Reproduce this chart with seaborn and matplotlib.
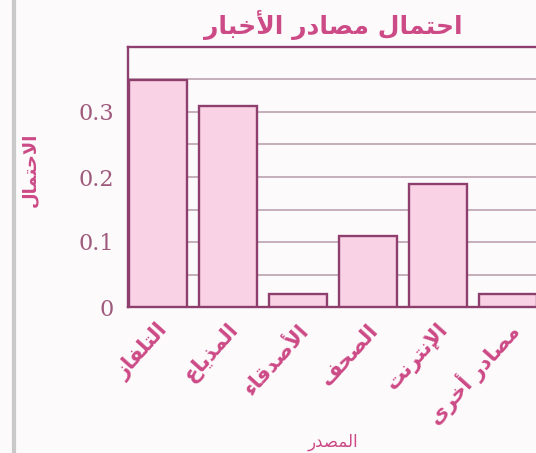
import matplotlib
matplotlib.use("Agg")
import matplotlib.pyplot as plt
import matplotlib.transforms as mtransforms
import seaborn as sns
import pandas as pd
from matplotlib.ticker import MultipleLocator
from matplotlib.lines import Line2D

# ---- data ----
categories = ["التلفاز", "المذياع", "الأصدقاء", "الصحف", "الإنترنت", "مصادر أخرى"]
probabilities = [0.35, 0.31, 0.02, 0.11, 0.19, 0.02]
ytick_values = [0, 0.1, 0.2, 0.3]
ytick_labels = ["0", "0.1", "0.2", "0.3"]
title_text = "احتمال مصادر الأخبار"
ylabel_text = "الاحتمال"
xlabel_text = "المصدر"

# ---- minimal Arabic shaping (matplotlib has no shaping engine) ----
FORMS = {
    "ء": ("\uFE80", None, None, None),
    "آ": ("\uFE81", "\uFE82", None, None),
    "أ": ("\uFE83", "\uFE84", None, None),
    "إ": ("\uFE87", "\uFE88", None, None),
    "ا": ("\uFE8D", "\uFE8E", None, None),
    "ب": ("\uFE8F", "\uFE90", "\uFE91", "\uFE92"),
    "ت": ("\uFE95", "\uFE96", "\uFE97", "\uFE98"),
    "ج": ("\uFE9D", "\uFE9E", "\uFE9F", "\uFEA0"),
    "ح": ("\uFEA1", "\uFEA2", "\uFEA3", "\uFEA4"),
    "خ": ("\uFEA5", "\uFEA6", "\uFEA7", "\uFEA8"),
    "د": ("\uFEA9", "\uFEAA", None, None),
    "ذ": ("\uFEAB", "\uFEAC", None, None),
    "ر": ("\uFEAD", "\uFEAE", None, None),
    "ز": ("\uFEAF", "\uFEB0", None, None),
    "ص": ("\uFEB9", "\uFEBA", "\uFEBB", "\uFEBC"),
    "ع": ("\uFEC9", "\uFECA", "\uFECB", "\uFECC"),
    "ف": ("\uFED1", "\uFED2", "\uFED3", "\uFED4"),
    "ق": ("\uFED5", "\uFED6", "\uFED7", "\uFED8"),
    "ل": ("\uFEDD", "\uFEDE", "\uFEDF", "\uFEE0"),
    "م": ("\uFEE1", "\uFEE2", "\uFEE3", "\uFEE4"),
    "ن": ("\uFEE5", "\uFEE6", "\uFEE7", "\uFEE8"),
    "ه": ("\uFEE9", "\uFEEA", "\uFEEB", "\uFEEC"),
    "و": ("\uFEED", "\uFEEE", None, None),
    "ى": ("\uFEEF", "\uFEF0", None, None),
    "ي": ("\uFEF1", "\uFEF2", "\uFEF3", "\uFEF4"),
}
LAM_ALEF = {"آ": ("\uFEF5", "\uFEF6"), "أ": ("\uFEF7", "\uFEF8"),
            "إ": ("\uFEF9", "\uFEFA"), "ا": ("\uFEFB", "\uFEFC")}


def joins_next(ch):
    return ch in FORMS and FORMS[ch][2] is not None


def shape_line(s):
    units = []
    i = 0
    while i < len(s):
        if s[i] == "ل" and i + 1 < len(s) and s[i + 1] in LAM_ALEF:
            units.append(("LA", s[i + 1]))
            i += 2
        else:
            units.append(("C", s[i]))
            i += 1
    out = []
    for k, (kind, ch) in enumerate(units):
        prev = units[k - 1] if k > 0 else None
        nxt = units[k + 1] if k + 1 < len(units) else None
        p = prev is not None and prev[0] == "C" and joins_next(prev[1])
        if kind == "LA":
            out.append(LAM_ALEF[ch][1] if p else LAM_ALEF[ch][0])
            continue
        if ch not in FORMS:
            out.append(ch)
            continue
        iso, fin, ini, med = FORMS[ch]
        n = nxt is not None and (nxt[0] == "LA" or nxt[1] in FORMS) and ini is not None
        if p and n and med:
            out.append(med)
        elif p and fin:
            out.append(fin)
        elif n and ini:
            out.append(ini)
        else:
            out.append(iso)
    return "".join(out)[::-1]


def ar(s):
    return "\n".join(shape_line(line) for line in s.split("\n"))


# ---- style ----
pink_text = "#cc4a86"
bar_face = "#f9d2e5"
bar_edge = "#8e3f6e"
grid_col = "#b59aa8"

sns.set_theme(style="white")
plt.rcParams["font.family"] = ["DejaVu Sans"]

fig = plt.figure(figsize=(5.36, 4.53), dpi=100, facecolor="#fdfafb")
ax = fig.add_axes([128 / 536, 1 - 307 / 453, 410 / 536, 260 / 453])
ax.set_facecolor("#fdfafb")

df = pd.DataFrame({"cat": [ar(c) for c in categories], "p": probabilities})
sns.barplot(data=df, x="cat", y="p", ax=ax, color=bar_face, saturation=1,
            width=0.82, edgecolor=bar_edge, linewidth=1.7, zorder=3)

ax.set_xlim(-0.43, 5.43)
ax.set_ylim(0, 0.4)
ax.yaxis.set_minor_locator(MultipleLocator(0.05))
ax.set_yticks(ytick_values)
ax.set_yticklabels(ytick_labels, family="DejaVu Serif", fontsize=16, color="#9e5a7c")
ax.grid(True, which="both", axis="y", color=grid_col, linewidth=1.1, zorder=0)
ax.tick_params(axis="both", which="both", length=0)
ax.tick_params(axis="y", pad=10)

for s in ax.spines.values():
    s.set_color(bar_edge)
    s.set_linewidth(1.7)

labels = ax.get_xticklabels()
ax.set_xticklabels([l.get_text() for l in labels], rotation=48, ha="right",
                   va="center", rotation_mode="anchor", fontsize=15,
                   fontweight="bold", color=pink_text)
ax.tick_params(axis="x", pad=14)
offset = mtransforms.ScaledTranslation(7 / 100, 0, fig.dpi_scale_trans)
for lab in ax.get_xticklabels():
    lab.set_transform(lab.get_transform() + offset)

ax.set_xlabel(ar(xlabel_text), fontsize=12, color=pink_text, va="center")
ax.xaxis.set_label_coords((333 - 128) / 410, (307 - 442) / 260)
ax.set_ylabel(ar(ylabel_text), fontsize=13, fontweight="bold", color=pink_text,
              va="center")
ax.yaxis.set_label_coords((30 - 128) / 410, (307 - 170) / 260)
ax.set_title(ar(title_text), fontsize=18, fontweight="bold", color=pink_text, pad=9)

fig.add_artist(Line2D([14 / 536, 14 / 536], [0, 1], transform=fig.transFigure,
                      color="#c9c9c9", linewidth=3))

fig.savefig("out.png", dpi=100, facecolor=fig.get_facecolor())
